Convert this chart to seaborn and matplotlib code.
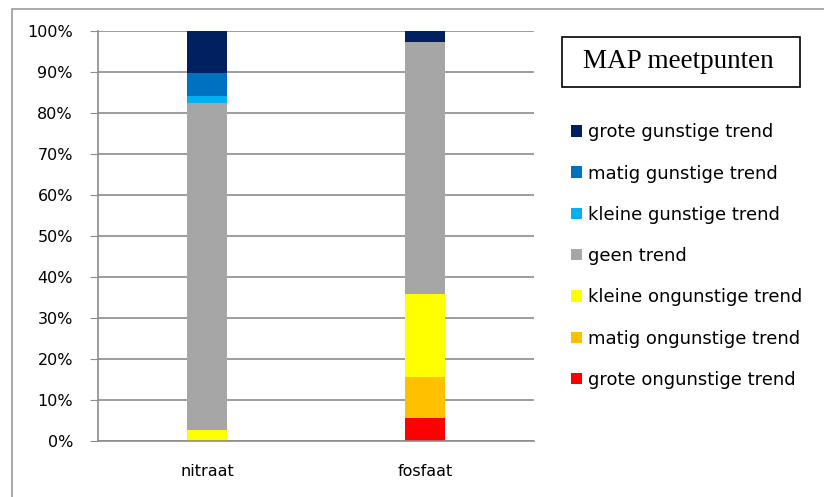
import matplotlib
matplotlib.use("Agg")
import matplotlib.pyplot as plt
from matplotlib.patches import Patch, Rectangle
import seaborn as sns
import pandas as pd
import numpy as np

categories = ["nitraat", "fosfaat"]
# stack order from bottom to top
series = ["grote ongunstige trend", "matig ongunstige trend", "kleine ongunstige trend",
          "geen trend", "kleine gunstige trend", "matig gunstige trend", "grote gunstige trend"]
grote_ongunstig = [0.0, 5.6]
matig_ongunstig = [0.0, 10.0]
kleine_ongunstig = [2.7, 20.3]
geen_trend = [79.7, 61.4]
kleine_gunstig = [1.7, 0.0]
matig_gunstig = [5.7, 0.0]
grote_gunstig = [10.2, 2.7]
colors = ["#FF0000", "#FFC000", "#FFFF00", "#A6A6A6", "#00B0F0", "#0070C0", "#002060"]

df = pd.DataFrame({
    "categorie": categories,
    series[0]: grote_ongunstig,
    series[1]: matig_ongunstig,
    series[2]: kleine_ongunstig,
    series[3]: geen_trend,
    series[4]: kleine_gunstig,
    series[5]: matig_gunstig,
    series[6]: grote_gunstig,
})
cum = df[series].cumsum(axis=1)

sns.set_style("white")
fig = plt.figure(figsize=(8.24, 4.97), dpi=100)
ax = fig.add_axes([98/824, 1-441/497, (534-98)/824, (441-31)/497])

# draw cumulative totals from the top of the stack down
for s, c in reversed(list(zip(series, colors))):
    sns.barplot(x=df["categorie"], y=cum[s], color=c, saturation=1, width=0.18,
                ax=ax, edgecolor="none", linewidth=0)

ax.set_ylim(0, 100)
ax.set_xlim(-0.5, 1.5)
ax.set_yticks(np.arange(0, 101, 10))
ax.set_yticklabels([f"{v}%" for v in range(0, 101, 10)])
ax.yaxis.grid(True, color="#8c8c8c", linewidth=1.2)
ax.set_axisbelow(True)
ax.set_xlabel("")
ax.set_ylabel("")
for side in ["top", "right"]:
    ax.spines[side].set_visible(False)
ax.spines["left"].set_color("#8c8c8c")
ax.spines["bottom"].set_color("#8c8c8c")
ax.spines["left"].set_linewidth(1.2)
ax.spines["bottom"].set_linewidth(1.2)
ax.tick_params(axis="y", left=True, length=6, color="#8c8c8c", labelsize=11.5,
               pad=12, labelcolor="black")
ax.tick_params(axis="x", bottom=False, labelsize=11.5, pad=13, labelcolor="black")

# outer chart frame
fig.patches.append(Rectangle((12/824, -0.05), 1.2, 1 - 9/497 + 0.05, transform=fig.transFigure,
                             fill=False, edgecolor="#9a9a9a", linewidth=1.2))

# legend title box
fig.patches.append(Rectangle((562/824, 1-87/497), (800-562)/824, (87-37)/497,
                             transform=fig.transFigure, fill=False, edgecolor="black", linewidth=1.2))
fig.text(678/824, 1-61/497, "MAP meetpunten", ha="center", va="center",
         family="Liberation Serif", fontsize=19.5, color="black")

handles = [Patch(facecolor=c, edgecolor="none", label=s)
           for s, c in reversed(list(zip(series, colors)))]
fig.legend(handles=handles, loc="upper left", bbox_to_anchor=(564/824, 1-116/497),
           frameon=False, fontsize=13, handlelength=0.6, handleheight=0.6,
           handletextpad=0.35, labelspacing=1.29, borderaxespad=0, labelcolor="black")

fig.savefig("out.png", dpi=100)
